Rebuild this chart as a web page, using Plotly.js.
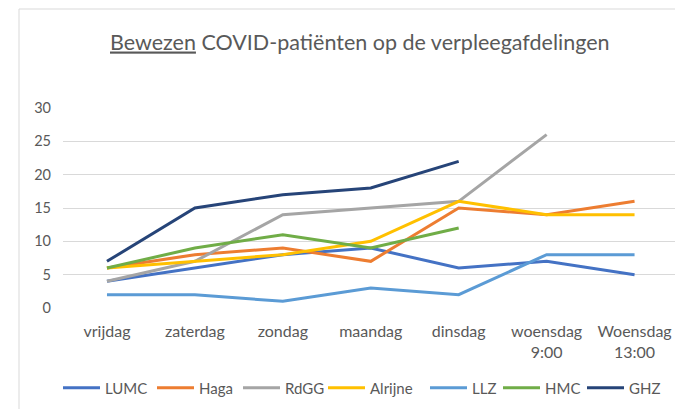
<!DOCTYPE html>
<html>
<head>
<meta charset="utf-8">
<script src="https://cdn.plot.ly/plotly-3.0.1.min.js"></script>
<style>html,body{margin:0;padding:0;background:#fff;}#chart{width:675px;height:409px;}</style>
</head>
<body>
<div id="chart"></div>
<script>
const categories = ["vrijdag", "zaterdag", "zondag", "maandag", "dinsdag", "woensdag<br>9:00", "Woensdag<br>13:00"];
const seriesNames = ["LUMC", "Haga", "RdGG", "Alrijne", "LLZ", "HMC", "GHZ"];
const LUMC = [4, 6, 8, 9, 6, 7, 5];
const Haga = [6, 8, 9, 7, 15, 14, 16];
const RdGG = [4, 7, 14, 15, 16, 26, null];
const Alrijne = [6, 7, 8, 10, 16, 14, 14];
const LLZ = [2, 2, 1, 3, 2, 8, 8];
const HMC = [6, 9, 11, 9, 12, null, null];
const GHZ = [7, 15, 17, 18, 22, null, null];
const colors = ["#4472C4", "#ED7D31", "#A5A5A5", "#FFC000", "#5B9BD5", "#70AD47", "#264478"];
const values = [LUMC, Haga, RdGG, Alrijne, LLZ, HMC, GHZ];

// legend entry left edges (px)
const legendStartsPx = [63, 157, 243, 328, 430, 503, 587];

const traces = seriesNames.map((n, i) => ({
  type: "scatter", mode: "lines", name: n,
  x: categories, y: values[i],
  line: {color: colors[i], width: 3},
  connectgaps: false,
  legend: i === 0 ? "legend" : "legend" + (i + 1)
}));

const font = "Lato, 'Open Sans', sans-serif";
const plotL = 63, plotW = 612, plotB = 308, plotH = 200;
const layout = {
  width: 675, height: 409,
  margin: {l: plotL, r: 0, t: 108, b: 101},
  paper_bgcolor: "#fff", plot_bgcolor: "#fff",
  font: {family: font, color: "#595959", size: 15},
  title: {
    text: "<u>Bewezen</u> COVID-patiënten op de verpleegafdelingen",
    font: {family: font, size: 21.5, color: "#595959"},
    x: 0.533, xref: "container", xanchor: "center",
    y: 1 - 42/409, yref: "container", yanchor: "middle"
  },
  xaxis: {
    type: "category", range: [-0.5, 6.46],
    showgrid: false, zeroline: false,
    showline: false, ticks: "",
    ticklabelstandoff: 12,
    tickfont: {family: font, size: 16, color: "#595959"}
  },
  yaxis: {
    range: [0, 30], dtick: 5, tick0: 0,
    showgrid: true, gridcolor: "#D9D9D9", gridwidth: 1,
    zeroline: false, showline: false, ticks: "",
    ticklabelstandoff: 11,
    tickfont: {family: font, size: 14.5, color: "#595959"}
  },
  shapes: [{
    type: "rect", xref: "paper", yref: "paper",
    x0: (19-plotL)/plotW, x1: 1.2, y0: -0.7, y1: (plotB-9)/plotH,
    line: {color: "#D9D9D9", width: 1}, fillcolor: "rgba(0,0,0,0)", layer: "below"
  }],
  showlegend: true
};

legendStartsPx.forEach((px, i) => {
  const key = i === 0 ? "legend" : "legend" + (i + 1);
  layout[key] = {
    orientation: "h", x: (px - plotL - 5) / plotW, xanchor: "left",
    y: (plotB - 388) / plotH, yanchor: "middle",
    itemwidth: 37,
    bgcolor: "rgba(0,0,0,0)",
    font: {family: font, size: 15, color: "#595959"}
  };
});

Plotly.newPlot("chart", traces, layout, {displayModeBar: false, staticPlot: true});
</script>
</body>
</html>
